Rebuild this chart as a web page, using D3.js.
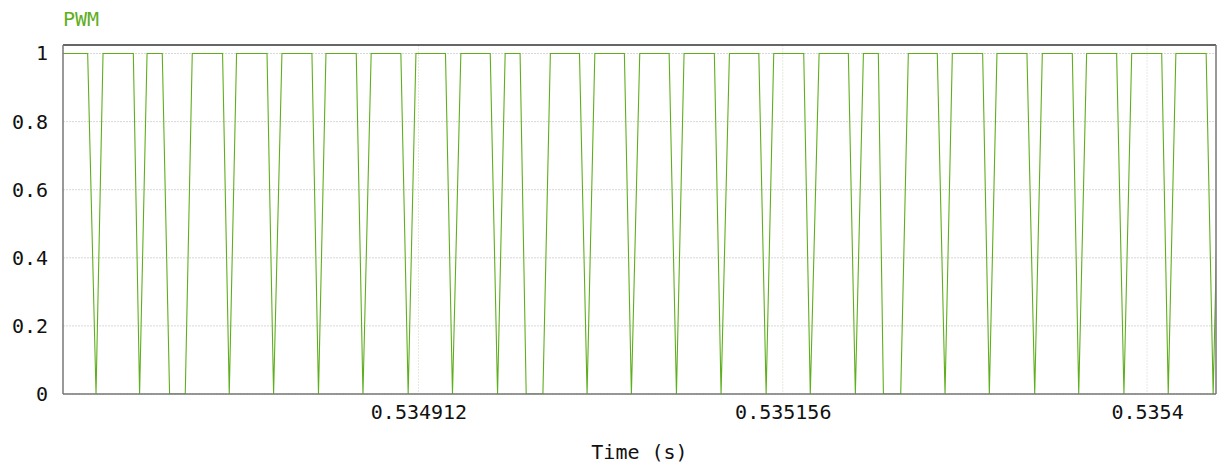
<!DOCTYPE html>
<html>
<head>
<meta charset="utf-8">
<script src="https://cdn.jsdelivr.net/npm/d3@7"></script>
<style>
  body { margin: 0; background: #fff; }
  text { font-family: "DejaVu Sans Mono", monospace; }
</style>
</head>
<body>
<div id="chart"></div>
<script>
// PWM samples: time (s) and level
var times = [
  0.5346739, 0.5346904, 0.5346960, 0.5347007, 0.5347210, 0.5347252, 0.5347302,
  0.5347404, 0.5347453, 0.5347558, 0.5347605, 0.5347808, 0.5347853, 0.5347902,
  0.5348106, 0.5348150, 0.5348206, 0.5348407, 0.5348451, 0.5348501, 0.5348704,
  0.5348749, 0.5348804, 0.5349003, 0.5349052, 0.5349104, 0.5349302, 0.5349349,
  0.5349405, 0.5349602, 0.5349651, 0.5349702, 0.5349802, 0.5349843, 0.5349955,
  0.5350005, 0.5350200, 0.5350251, 0.5350303, 0.5350501, 0.5350548, 0.5350604,
  0.5350801, 0.5350850, 0.5350901, 0.5351104, 0.5351149, 0.5351205, 0.5351402,
  0.5351451, 0.5351502, 0.5351703, 0.5351747, 0.5351806, 0.5352002, 0.5352049,
  0.5352103, 0.5352203, 0.5352237, 0.5352353, 0.5352404, 0.5352598, 0.5352650,
  0.5352699, 0.5352902, 0.5352947, 0.5352998, 0.5353199, 0.5353251, 0.5353302,
  0.5353503, 0.5353546, 0.5353599, 0.5353800, 0.5353849, 0.5353901, 0.5354102,
  0.5354146, 0.5354197, 0.5354400, 0.5354447, 0.5354499
];
var levels = [
  1, 1, 0, 1, 1, 0, 1,
  1, 0, 0, 1, 1, 0, 1,
  1, 0, 1, 1, 0, 1, 1,
  0, 1, 1, 0, 1, 1, 0,
  1, 1, 0, 1, 1, 0, 0,
  1, 1, 0, 1, 1, 0, 1,
  1, 0, 1, 1, 0, 1, 1,
  0, 1, 1, 0, 1, 1, 0,
  1, 1, 0, 0, 1, 1, 0,
  1, 1, 0, 1, 1, 0, 1,
  1, 0, 1, 1, 0, 1, 1,
  0, 1, 1, 0, 1
];
var xTicks = [2191 / 4096, 2192 / 4096, 2193 / 4096];
var yTicks = [0, 0.2, 0.4, 0.6, 0.8, 1];
var seriesName = "PWM";
var xLabel = "Time (s)";

var W = 1225, H = 467;
var margin = { top: 45, right: 9, bottom: 73, left: 63 };
var width = W - margin.left - margin.right,
    height = H - margin.top - margin.bottom;
var green = "#5fae1e";
var fontSize = 20;

var svg = d3.select("#chart").append("svg")
    .attr("width", W).attr("height", H);

var g = svg.append("g")
    .attr("transform", "translate(" + margin.left + "," + margin.top + ")");

var xScale = d3.scaleLinear()
    .domain([0.53467387, 0.5354466])
    .range([0, width]);

var yScale = d3.scaleLinear()
    .domain([0, 1.025])
    .range([height, 0]);

// grid lines
g.append("g")
    .selectAll("line")
    .data(yTicks)
    .enter().append("line")
    .attr("x1", 0).attr("x2", width)
    .attr("y1", function (d) { return yScale(d); })
    .attr("y2", function (d) { return yScale(d); })
    .attr("stroke", "#d8d8d8")
    .attr("stroke-dasharray", "2,1");

g.append("g")
    .selectAll("line")
    .data(xTicks)
    .enter().append("line")
    .attr("x1", function (d) { return xScale(d); })
    .attr("x2", function (d) { return xScale(d); })
    .attr("y1", 0).attr("y2", height)
    .attr("stroke", "#e6eadc")
    .attr("stroke-dasharray", "2,1");

// axes
var xAxis = g.append("g")
    .attr("transform", "translate(0," + height + ")")
    .call(d3.axisBottom(xScale).tickValues(xTicks).tickSize(0).tickPadding(11)
        .tickFormat(d3.format(".6~g")));
xAxis.select(".domain").remove();
xAxis.selectAll("text").attr("font-size", fontSize).attr("fill", "#111")
    .style("font-family", "DejaVu Sans Mono, monospace");

var yAxis = g.append("g")
    .call(d3.axisLeft(yScale).tickValues(yTicks).tickSize(0).tickPadding(15)
        .tickFormat(d3.format("~g")));
yAxis.select(".domain").remove();
yAxis.selectAll("text").attr("font-size", fontSize).attr("fill", "#111")
    .style("font-family", "DejaVu Sans Mono, monospace");

// the signal
var data = times.map(function (t, i) { return [t, levels[i]]; });

g.append("clipPath").attr("id", "clip")
    .append("rect").attr("width", width).attr("height", height);

g.append("path")
    .datum(data)
    .attr("clip-path", "url(#clip)")
    .attr("fill", "none")
    .attr("stroke", green)
    .attr("stroke-width", 1.1)
    .attr("d", d3.line()
        .x(function (d) { return xScale(d[0]); })
        .y(function (d) { return yScale(d[1]); }));

// frame
g.append("line").attr("x1", 0).attr("x2", width).attr("y1", 0).attr("y2", 0)
    .attr("stroke", "#333").attr("stroke-width", 1.5);
g.append("line").attr("x1", 0).attr("x2", 0).attr("y1", 0).attr("y2", height)
    .attr("stroke", "#777").attr("stroke-width", 1.5);
g.append("line").attr("x1", 0).attr("x2", width).attr("y1", height).attr("y2", height)
    .attr("stroke", "#777").attr("stroke-width", 1.5);
g.append("line").attr("x1", width).attr("x2", width).attr("y1", 0).attr("y2", height)
    .attr("stroke", "#777").attr("stroke-width", 1.5);

// labels
svg.append("text")
    .attr("x", margin.left).attr("y", 26)
    .attr("font-size", fontSize).attr("fill", green)
    .text(seriesName);

svg.append("text")
    .attr("x", margin.left + width / 2).attr("y", 459)
    .attr("text-anchor", "middle")
    .attr("font-size", fontSize).attr("fill", "#111")
    .text(xLabel);
</script>
</body>
</html>
